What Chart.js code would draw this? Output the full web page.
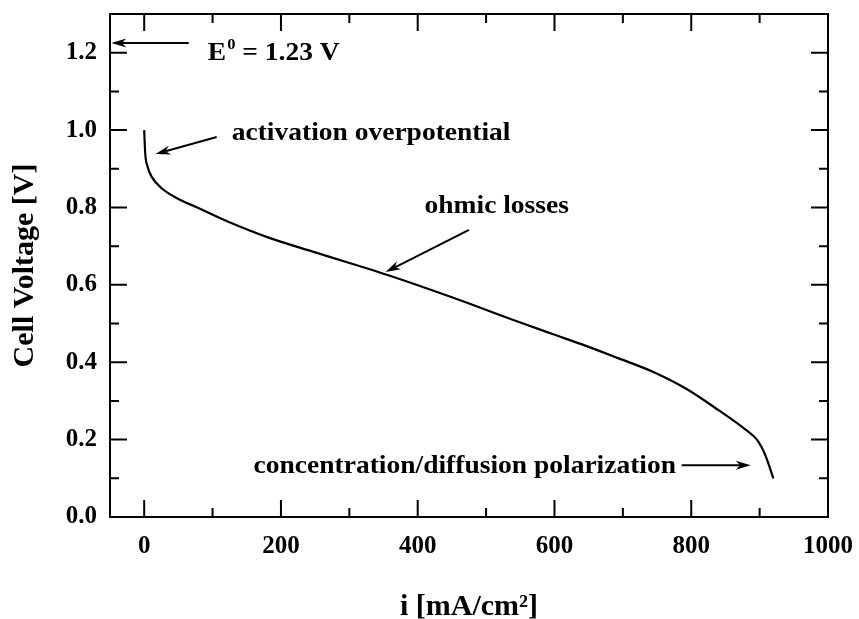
<!DOCTYPE html>
<html>
<head>
<meta charset="utf-8">
<script src="https://cdn.jsdelivr.net/npm/chart.js@4"></script>
<style>
  html, body { margin: 0; padding: 0; background: #fff; }
  #wrap { width: 859px; height: 619px; }
</style>
</head>
<body>
<div id="wrap"><canvas id="myChart" width="859" height="619"></canvas></div>
<script>
// polarization curve
const currentDensity = [0, 1.5, 5, 11, 26, 50, 75, 123, 182, 250, 357, 450, 548, 597, 645, 694, 743, 792, 840, 880, 896, 903, 910, 920];
const cellVoltage = [1.00, 0.94, 0.905, 0.879, 0.849, 0.822, 0.802, 0.763, 0.722, 0.684, 0.625, 0.568, 0.504, 0.473, 0.443, 0.410, 0.376, 0.332, 0.276, 0.225, 0.20, 0.18, 0.152, 0.10];

const xTicks = [0, 200, 400, 600, 800, 1000];
const xMinor = [100, 300, 500, 700, 900];
const yTicks = [0, 0.2, 0.4, 0.6, 0.8, 1.0, 1.2];
const yMinor = [0.1, 0.3, 0.5, 0.7, 0.9, 1.1];

// annotations, anchored in data units
const notes = [
    { text: 'activation overpotential', x: 128, y: 0.974, from: [106, 0.982], to: [16.5, 0.938] },
    { text: 'ohmic losses', x: 410, y: 0.785, from: [475, 0.742], to: [353, 0.633] },
    { text: 'concentration/diffusion polarization', x: 160, y: 0.114, from: [786, 0.134], to: [887, 0.134] }
];
const e0Note = { x: 93, y: 1.181, from: [65, 1.225], to: [-48, 1.225] };

const serif = "'Liberation Serif', 'DejaVu Serif', serif";

function arrow(ctx, x1, y1, x2, y2) {
    const a = Math.atan2(y2 - y1, x2 - x1);
    const len = 15, half = 4.5;
    ctx.beginPath();
    ctx.moveTo(x1, y1);
    ctx.lineTo(x2 - Math.cos(a) * len * 0.7, y2 - Math.sin(a) * len * 0.7);
    ctx.stroke();
    ctx.beginPath();
    ctx.moveTo(x2, y2);
    ctx.lineTo(x2 - Math.cos(a) * len - Math.sin(a) * half, y2 - Math.sin(a) * len + Math.cos(a) * half);
    ctx.lineTo(x2 - Math.cos(a) * len * 0.7, y2 - Math.sin(a) * len * 0.7);
    ctx.lineTo(x2 - Math.cos(a) * len + Math.sin(a) * half, y2 - Math.sin(a) * len - Math.cos(a) * half);
    ctx.closePath();
    ctx.fill();
}

function stretchedText(ctx, text, x, y, size) {
    ctx.save();
    ctx.translate(x, y);
    ctx.scale(1.1, 1);
    ctx.font = 'bold ' + size + 'px ' + serif;
    ctx.fillText(text, 0, 0);
    const w = ctx.measureText(text).width * 1.1;
    ctx.restore();
    return w;
}

const framePlugin = {
    id: 'frame',
    afterDatasetsDraw(chart) {
        const { ctx, chartArea: a, scales: { x, y } } = chart;
        ctx.save();
        ctx.strokeStyle = '#000';
        ctx.fillStyle = '#000';
        ctx.lineWidth = 2;
        ctx.strokeRect(a.left, a.top, a.right - a.left, a.bottom - a.top);

        ctx.beginPath();
        const xt = (vals, len) => vals.forEach(v => {
            const px = x.getPixelForValue(v);
            ctx.moveTo(px, a.bottom); ctx.lineTo(px, a.bottom - len);
            ctx.moveTo(px, a.top); ctx.lineTo(px, a.top + len);
        });
        const yt = (vals, len) => vals.forEach(v => {
            const py = y.getPixelForValue(v);
            ctx.moveTo(a.left, py); ctx.lineTo(a.left + len, py);
            ctx.moveTo(a.right, py); ctx.lineTo(a.right - len, py);
        });
        xt(xTicks, 17); xt(xMinor, 9);
        yt(yTicks, 17); yt(yMinor, 9);
        ctx.stroke();

        // arrows
        ctx.lineWidth = 2;
        notes.concat([e0Note]).forEach(n => {
            arrow(ctx, x.getPixelForValue(n.from[0]), y.getPixelForValue(n.from[1]),
                x.getPixelForValue(n.to[0]), y.getPixelForValue(n.to[1]));
        });

        // labels
        ctx.textBaseline = 'alphabetic';
        ctx.textAlign = 'left';
        notes.forEach(n => {
            stretchedText(ctx, n.text, x.getPixelForValue(n.x), y.getPixelForValue(n.y), 25);
        });
        let ex = x.getPixelForValue(e0Note.x);
        const ey = y.getPixelForValue(e0Note.y);
        ex += stretchedText(ctx, 'E', ex, ey, 25);
        ex += stretchedText(ctx, '0', ex + 1, ey - 11, 15) + 1;
        stretchedText(ctx, ' = 1.23 V', ex, ey, 25);
        ctx.restore();
    }
};

const ctx = document.getElementById('myChart').getContext('2d');
const chart = new Chart(ctx, {
    type: 'scatter',
    data: {
        datasets: [{
            label: 'Cell Voltage',
            data: currentDensity.map((v, i) => ({ x: v, y: cellVoltage[i] })),
            showLine: true,
            borderColor: '#000',
            borderWidth: 2.2,
            pointRadius: 0,
            cubicInterpolationMode: 'monotone',
            fill: false
        }]
    },
    options: {
        responsive: false,
        animation: false,
        layout: { padding: { left: 0, top: 14, right: 31, bottom: 0 } },
        plugins: { legend: { display: false }, tooltip: { enabled: false } },
        scales: {
            x: {
                type: 'linear',
                min: -50,
                max: 1000,
                afterBuildTicks: s => { s.ticks = xTicks.map(v => ({ value: v })); },
                afterFit: s => { s.height = 102; s.paddingLeft = 0; s.paddingRight = 0; },
                grid: { display: false, drawTicks: false },
                border: { display: false },
                ticks: {
                    padding: 15,
                    color: '#000',
                    maxRotation: 0,
                    callback: v => String(v),
                    font: { family: serif, size: 25, weight: 'bold' }
                },
                title: {
                    display: true,
                    text: 'i [mA/cm²]',
                    color: '#000',
                    padding: { top: 0, bottom: -3 },
                    font: { family: serif, size: 30, weight: 'bold', lineHeight: 1 }
                }
            },
            y: {
                min: 0,
                max: 1.3,
                afterBuildTicks: s => { s.ticks = yTicks.map(v => ({ value: v })); },
                afterFit: s => { s.width = 110; s.paddingTop = 0; s.paddingBottom = 0; },
                grid: { display: false, drawTicks: false },
                border: { display: false },
                ticks: {
                    padding: 13,
                    color: '#000',
                    callback: v => v.toFixed(1),
                    font: { family: serif, size: 25, weight: 'bold' }
                },
                title: {
                    display: true,
                    text: 'Cell Voltage [V]',
                    color: '#000',
                    padding: { top: 10, bottom: 0 },
                    font: { family: serif, size: 30, weight: 'bold', lineHeight: 1 }
                }
            }
        }
    },
    plugins: [framePlugin]
});
</script>
</body>
</html>
